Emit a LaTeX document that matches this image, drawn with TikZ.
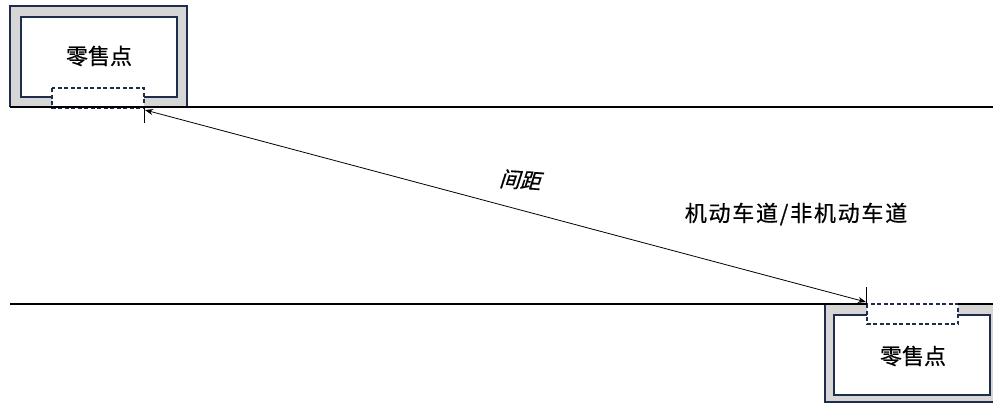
\documentclass[tikz,border=0pt]{standalone}
\usepackage{fontspec}
\newfontfamily\cjk[FakeBold=0.6]{Noto Sans CJK SC}
\newfontfamily\cjkwide[LetterSpace=8,FakeBold=0.6]{Noto Sans CJK SC}
\usetikzlibrary{arrows.meta}
\definecolor{navy}{HTML}{1F2D4D}
\definecolor{wallgray}{HTML}{D6D6D6}
\tikzset{
  wall/.style={fill=wallgray, draw=navy, line width=1.3pt},
  inner/.style={fill=white, draw=navy, line width=1.3pt},
  door/.style={fill=white, draw=navy, line width=1.3pt, dash pattern=on 4pt off 2.5pt},
  road/.style={draw=black, line width=1.8pt},
  lbl/.style={font=\cjk\fontsize{22}{26}\selectfont, inner sep=0pt},
  tick/.style={draw=black, line width=0.8pt}
}
\begin{document}
\begin{tikzpicture}[x=1pt,y=-1pt]
\useasboundingbox (0,0) rectangle (993,405);
% top-left shop
\fill[wallgray] (10,6) rectangle (187,107);
\draw[navy, line width=1.3pt] (10,107) -- (10,6) -- (187,6) -- (187,107);
\draw[inner] (21,17) rectangle (177,97);
\draw[door] (52,88) rectangle (144,108);
\node[lbl] (shop1) at (99,56) {零售点};
% top road line
\draw[road] (10,107) -- (993,107);
% bottom shop
\fill[wallgray] (825,304) rectangle (995,402);
\draw[navy, line width=1.3pt] (825,304) -- (825,402) -- (995,402);
\draw[inner] (834,315) rectangle (990,395);
\draw[door] (867,304) rectangle (958,324);
\node[lbl] (shop2) at (913,356) {零售点};
% bottom road line
\draw[road] (10,304) -- (867,304);
\draw[road] (958,304) -- (993,304);
% distance arrow
\coordinate (p1) at (145,110);
\coordinate (p2) at (866,302);
\draw[tick] (144,108) -- (144,123);
\draw[tick] (866,287) -- (866,304);
\draw[line width=0.8pt, {Stealth[length=8pt,width=6pt]}-{Stealth[length=8pt,width=6pt]}] (p1) -- (p2);
\node[lbl, font=\cjk\fontsize{21}{24}\selectfont, xslant=0.25, rotate=-4] (dist) at (522,180) {间距};
\node[lbl, font=\cjkwide\fontsize{22}{26}\selectfont] (lane) at (796,214) {机动车道/非机动车道};
\end{tikzpicture}
\end{document}
